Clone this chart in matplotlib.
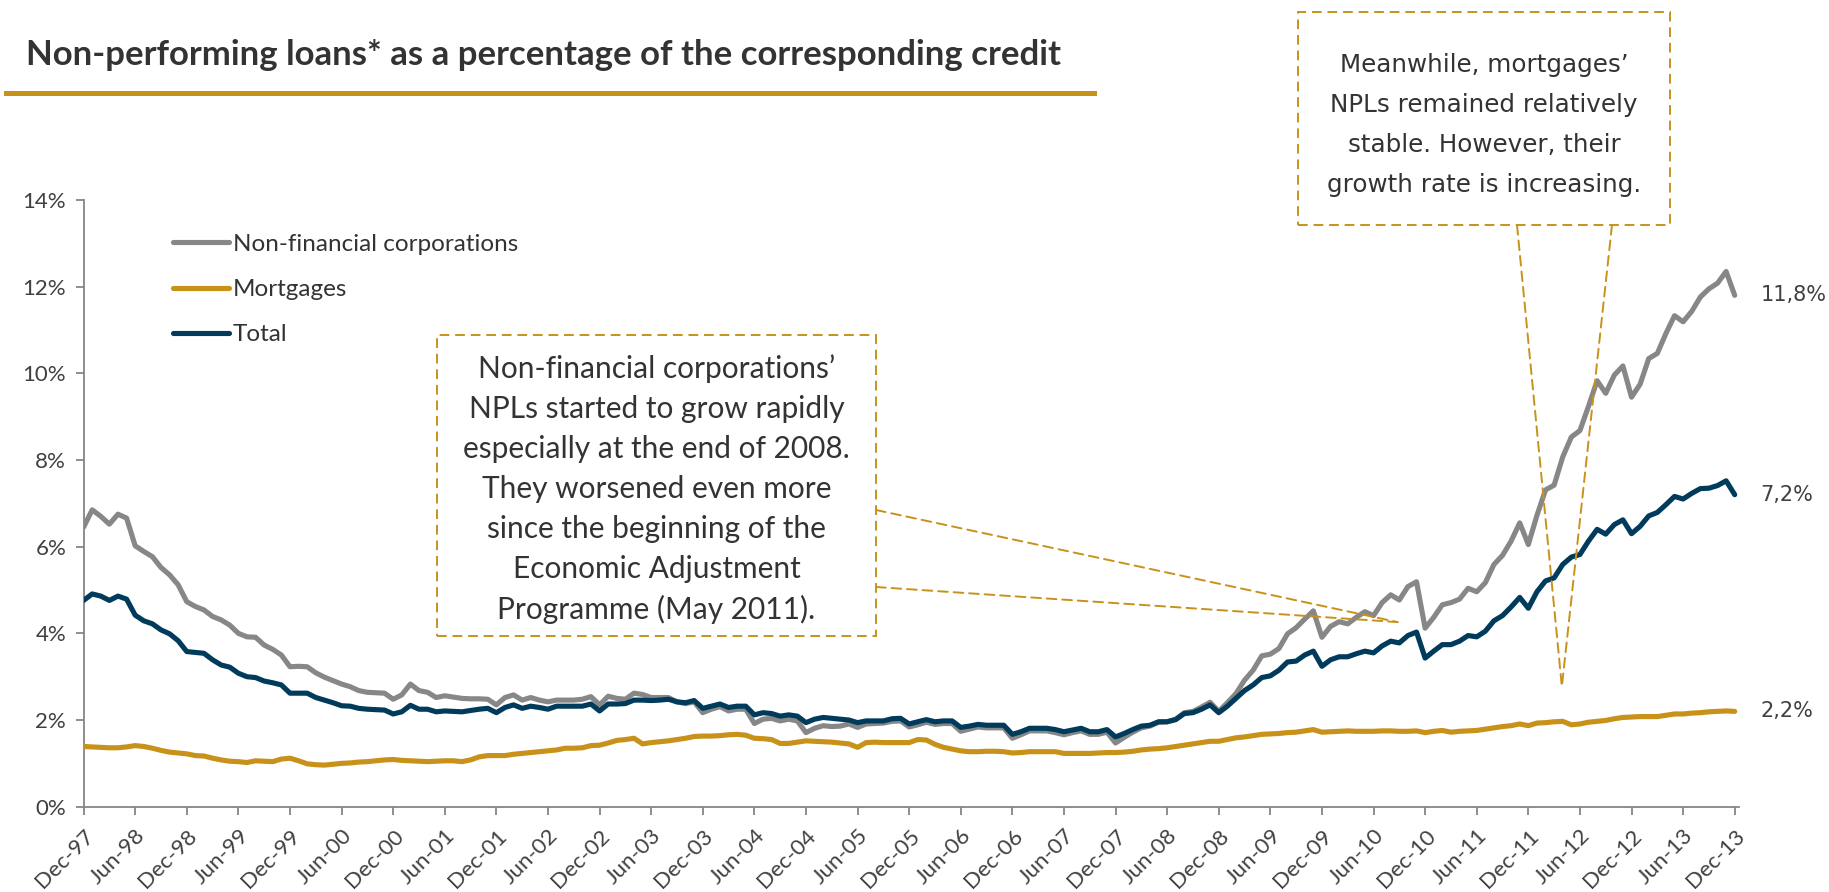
import numpy as np
import pandas as pd
import matplotlib
matplotlib.use("Agg")
import matplotlib.pyplot as plt
from matplotlib.patches import Rectangle, ConnectionPatch
from matplotlib.lines import Line2D

plt.rcParams['font.family'] = ['Lato', 'DejaVu Sans']

# Monthly NPL ratios (%), Dec-1997 to Dec-2013
months = pd.date_range("1997-12-01", "2013-12-01", freq="MS")

nfc = [
    6.45, 6.85, 6.70, 6.52, 6.75, 6.66, 6.02, 5.89, 5.77, 5.52, 5.35, 5.12,
    4.73, 4.62, 4.54, 4.39, 4.31, 4.19, 4.00, 3.92, 3.91, 3.73, 3.63, 3.50,
    3.23, 3.24, 3.23, 3.09, 2.99, 2.91, 2.83, 2.77, 2.68, 2.64, 2.63, 2.62,
    2.48, 2.58, 2.83, 2.68, 2.64, 2.52, 2.56, 2.53, 2.50, 2.49, 2.49, 2.48,
    2.35, 2.52, 2.58, 2.46, 2.52, 2.46, 2.42, 2.46, 2.46, 2.46, 2.48, 2.54,
    2.35, 2.55, 2.50, 2.48, 2.62, 2.59, 2.52, 2.52, 2.52, 2.42, 2.38, 2.42,
    2.17, 2.25, 2.31, 2.21, 2.25, 2.25, 1.92, 2.02, 2.04, 1.98, 2.02, 1.98,
    1.71, 1.81, 1.87, 1.85, 1.86, 1.91, 1.83, 1.91, 1.92, 1.93, 1.97, 1.98,
    1.84, 1.89, 1.95, 1.90, 1.92, 1.92, 1.74, 1.79, 1.84, 1.82, 1.82, 1.82,
    1.58, 1.66, 1.75, 1.75, 1.75, 1.71, 1.66, 1.71, 1.75, 1.67, 1.67, 1.72,
    1.47, 1.60, 1.72, 1.82, 1.86, 1.95, 1.96, 2.02, 2.17, 2.20, 2.30, 2.41,
    2.20, 2.40, 2.61, 2.92, 3.15, 3.48, 3.52, 3.65, 3.99, 4.13, 4.33, 4.52,
    3.91, 4.16, 4.27, 4.22, 4.37, 4.50, 4.41, 4.71, 4.89, 4.77, 5.08, 5.19,
    4.12, 4.37, 4.66, 4.71, 4.79, 5.04, 4.96, 5.17, 5.59, 5.80, 6.13, 6.55,
    6.05, 6.72, 7.31, 7.42, 8.07, 8.53, 8.68, 9.24, 9.83, 9.54, 9.96, 10.17,
    9.45, 9.75, 10.34, 10.46, 10.92, 11.33, 11.19, 11.43, 11.76, 11.95, 12.08, 12.35,
    11.80,
]

mortgages = [
    1.39, 1.38, 1.37, 1.36, 1.36, 1.38, 1.41, 1.39, 1.35, 1.30, 1.26, 1.24,
    1.22, 1.18, 1.17, 1.12, 1.08, 1.05, 1.04, 1.02, 1.06, 1.05, 1.04, 1.10,
    1.12, 1.06, 0.99, 0.97, 0.96, 0.98, 1.00, 1.01, 1.03, 1.04, 1.06, 1.08,
    1.09, 1.07, 1.06, 1.05, 1.04, 1.05, 1.06, 1.06, 1.04, 1.08, 1.15, 1.18,
    1.18, 1.18, 1.21, 1.23, 1.25, 1.27, 1.29, 1.31, 1.35, 1.35, 1.36, 1.41,
    1.42, 1.47, 1.53, 1.55, 1.58, 1.45, 1.48, 1.50, 1.52, 1.55, 1.58, 1.62,
    1.63, 1.63, 1.64, 1.66, 1.67, 1.65, 1.58, 1.57, 1.55, 1.46, 1.46, 1.49,
    1.52, 1.51, 1.50, 1.49, 1.47, 1.45, 1.37, 1.48, 1.49, 1.48, 1.48, 1.48,
    1.48, 1.55, 1.54, 1.44, 1.37, 1.33, 1.29, 1.27, 1.27, 1.28, 1.28, 1.27,
    1.24, 1.25, 1.27, 1.27, 1.27, 1.27, 1.23, 1.23, 1.23, 1.23, 1.24, 1.25,
    1.25, 1.26, 1.28, 1.31, 1.33, 1.34, 1.36, 1.39, 1.42, 1.45, 1.48, 1.51,
    1.51, 1.55, 1.59, 1.61, 1.64, 1.67, 1.68, 1.69, 1.71, 1.72, 1.75, 1.78,
    1.72, 1.73, 1.74, 1.75, 1.74, 1.74, 1.74, 1.75, 1.75, 1.74, 1.74, 1.75,
    1.71, 1.74, 1.76, 1.72, 1.74, 1.75, 1.76, 1.79, 1.82, 1.85, 1.87, 1.91,
    1.87, 1.93, 1.94, 1.96, 1.97, 1.89, 1.91, 1.95, 1.97, 1.99, 2.03, 2.06,
    2.07, 2.08, 2.08, 2.08, 2.11, 2.14, 2.14, 2.16, 2.17, 2.19, 2.20, 2.21,
    2.20,
]

total = [
    4.76, 4.91, 4.86, 4.76, 4.86, 4.79, 4.42, 4.29, 4.22, 4.08, 3.99, 3.83,
    3.58, 3.56, 3.54, 3.39, 3.27, 3.22, 3.08, 3.00, 2.98, 2.90, 2.86, 2.81,
    2.62, 2.62, 2.62, 2.52, 2.46, 2.40, 2.33, 2.32, 2.27, 2.25, 2.24, 2.23,
    2.14, 2.19, 2.34, 2.25, 2.25, 2.19, 2.21, 2.20, 2.19, 2.22, 2.25, 2.27,
    2.17, 2.29, 2.35, 2.27, 2.32, 2.29, 2.25, 2.32, 2.32, 2.32, 2.32, 2.37,
    2.21, 2.37, 2.37, 2.38, 2.46, 2.46, 2.45, 2.46, 2.48, 2.42, 2.40, 2.45,
    2.27, 2.32, 2.37, 2.29, 2.32, 2.32, 2.12, 2.17, 2.15, 2.09, 2.12, 2.09,
    1.94, 2.02, 2.06, 2.04, 2.02, 2.00, 1.94, 1.98, 1.98, 1.98, 2.03, 2.04,
    1.91, 1.96, 2.01, 1.96, 1.98, 1.98, 1.83, 1.86, 1.90, 1.88, 1.88, 1.88,
    1.67, 1.73, 1.81, 1.81, 1.81, 1.78, 1.73, 1.77, 1.81, 1.73, 1.73, 1.78,
    1.61, 1.69, 1.78, 1.86, 1.88, 1.96, 1.96, 2.01, 2.15, 2.17, 2.25, 2.35,
    2.17, 2.32, 2.50, 2.68, 2.81, 2.98, 3.02, 3.15, 3.34, 3.36, 3.50, 3.59,
    3.24, 3.39, 3.46, 3.46, 3.53, 3.59, 3.55, 3.71, 3.82, 3.78, 3.95, 4.03,
    3.43, 3.59, 3.74, 3.74, 3.82, 3.95, 3.92, 4.05, 4.29, 4.41, 4.61, 4.83,
    4.58, 4.96, 5.21, 5.28, 5.59, 5.76, 5.82, 6.13, 6.40, 6.29, 6.51, 6.62,
    6.30, 6.47, 6.71, 6.79, 6.97, 7.16, 7.10, 7.23, 7.34, 7.35, 7.41, 7.52,
    7.20,
]

series_names = ["Non-financial corporations", "Mortgages", "Total"]
title = "Non-performing loans* as a percentage of the corresponding credit"
note_nfc = ("Non-financial corporations\u2019\nNPLs started to grow rapidly\n"
            "especially at the end of 2008.\nThey worsened even more\n"
            "since the beginning of the\nEconomic Adjustment\nProgramme (May 2011).")
note_mortgages = ("Meanwhile, mortgages\u2019\nNPLs remained relatively\n"
                  "stable. However, their\ngrowth rate is increasing.")

GREY = "#878787"
GOLD = "#C8921A"
NAVY = "#003B5C"
TEXT = "#333333"
AXIS = "#868686"

x = np.arange(len(months))
tick_pos = x[::6]
tick_labels = months[::6].strftime("%b-%y")

fig = plt.figure(figsize=(18.29, 8.92), dpi=100)
ax = fig.add_axes([0.0457, 0.0956, 0.9051, 0.6802])

ax.plot(x, nfc, color=GREY, lw=3.7, solid_joinstyle="round", solid_capstyle="round", label=series_names[0], zorder=3)
ax.plot(x, mortgages, color=GOLD, lw=3.7, solid_joinstyle="round", solid_capstyle="round", label=series_names[1], zorder=3)
ax.plot(x, total, color=NAVY, lw=3.7, solid_joinstyle="round", solid_capstyle="round", label=series_names[2], zorder=4)

ax.set_xlim(0, 192.5)
ax.set_ylim(0, 14)
ax.set_yticks(np.arange(0, 15, 2))
ax.set_yticklabels([f"{v}%" for v in range(0, 15, 2)])
ax.set_xticks(tick_pos)
ax.set_xticklabels(tick_labels, rotation=45, ha="right", va="top", rotation_mode="anchor")

for side in ["top", "right"]:
    ax.spines[side].set_visible(False)
for side in ["left", "bottom"]:
    ax.spines[side].set_color(AXIS)
    ax.spines[side].set_linewidth(1.3)
ax.tick_params(axis="both", color=AXIS, width=1.3, length=5.5, labelcolor="#404040", labelsize=16)
ax.tick_params(axis="y", pad=7)
ax.tick_params(axis="x", pad=8)

# values at the end of each line
for vals in (nfc, total, mortgages):
    ax.annotate(f"{vals[-1]:.1f}%".replace(".", ","), xy=(x[-1], vals[-1]),
                xytext=(26, 0), textcoords="offset pixels", va="center", ha="left",
                fontsize=15, family="DejaVu Sans", color="#404040")

leg = ax.legend(loc="upper left", bbox_to_anchor=(0.0946, 0.738), bbox_transform=fig.transFigure,
                frameon=False, fontsize=17.5, handlelength=2.3, handletextpad=0.15,
                labelspacing=1.0, borderpad=0, borderaxespad=0)
for t in leg.get_texts():
    t.set_color(TEXT)

# title and underline
fig.text(26 / 1829, 1 - 55 / 892, title, fontsize=25, weight="bold", color=TEXT, va="center", ha="left")
fig.add_artist(Line2D([6 / 1829, 1094 / 1829], [1 - 93 / 892] * 2, color=GOLD, lw=3.6))

dash = (0, (5, 3))

# callout 1: non-financial corporations
b1 = (437 / 1829, 1 - 636 / 892, (876 - 437) / 1829, (636 - 335) / 892)
fig.add_artist(Rectangle(b1[:2], b1[2], b1[3], transform=fig.transFigure, fill=False,
                         ec=GOLD, lw=1.4, ls=dash))
fig.text(b1[0] + b1[2] / 2, b1[1] + b1[3] / 2 - 0.004, note_nfc, ha="center", va="center",
         multialignment="center", fontsize=21.5, linespacing=1.52, color=TEXT)
for ya in (510, 587):
    fig.add_artist(ConnectionPatch(xyA=(876 / 1829, 1 - ya / 892), coordsA=fig.transFigure,
                                   xyB=(152.8, 4.26), coordsB=ax.transData,
                                   color=GOLD, lw=1.4, ls=dash))

# callout 2: mortgages
b2 = (1298 / 1829, 1 - 225 / 892, (1670 - 1298) / 1829, (225 - 12) / 892)
fig.add_artist(Rectangle(b2[:2], b2[2], b2[3], transform=fig.transFigure, fill=False,
                         ec=GOLD, lw=1.4, ls=dash))
fig.text(b2[0] + b2[2] / 2, b2[1] + b2[3] / 2 - 0.0075, note_mortgages, ha="center", va="center",
         multialignment="center", fontsize=17.7, linespacing=1.85, color=TEXT, family="DejaVu Sans")
for xa in (1517, 1612):
    fig.add_artist(ConnectionPatch(xyA=(xa / 1829, 1 - 225 / 892), coordsA=fig.transFigure,
                                   xyB=(171.9, 2.77), coordsB=ax.transData,
                                   color=GOLD, lw=1.4, ls=dash))

fig.savefig("out.png", dpi=100, facecolor="white")
